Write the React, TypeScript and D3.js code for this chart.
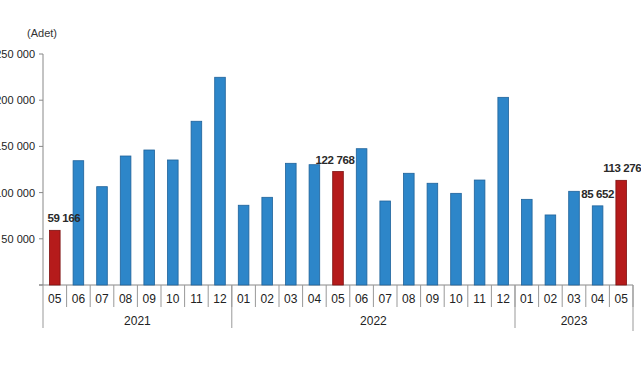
import React from "react";
import * as d3 from "d3";

const months = ["05","06","07","08","09","10","11","12","01","02","03","04","05","06","07","08","09","10","11","12","01","02","03","04","05"];
const years = ["2021","2021","2021","2021","2021","2021","2021","2021","2022","2022","2022","2022","2022","2022","2022","2022","2022","2022","2022","2022","2023","2023","2023","2023","2023"];
const values = [59166,134500,106400,139600,146100,135300,177200,224800,86300,94900,131700,130200,122768,147500,90900,120900,110100,99200,113600,203100,92700,75800,101400,85652,113276];
const highlighted = [0, 12, 24];
const labelled = [0, 12, 23, 24];
const yTicks = [0, 50000, 100000, 150000, 200000, 250000];
const yearNames = ["2021", "2022", "2023"];

const W = 641, H = 380;
const X0 = 43, X1 = 633, Y0 = 285, YTOP = 54;
const labelDx: Record<number, number> = { 0: 9, 12: -3, 23: 0, 24: 1 };

const fmt = (v: number) => d3.format(",")(v).replace(/,/g, " ");

export default function App() {
  const idx = months.map((_, i) => String(i));
  const x = d3.scaleBand<string>().domain(idx).range([X0, X1]).paddingInner(0.55).paddingOuter(0.275);
  const y = d3.scaleLinear().domain([0, 250000]).range([Y0, YTOP]);
  const step = x.step();
  const bw = x.bandwidth();
  const font = "'Liberation Sans', Arial, sans-serif";

  const yearGroups = yearNames.map((yr) => {
    const ids = years.map((v, i) => (v === yr ? i : -1)).filter((i) => i >= 0);
    const start = X0 + ids[0] * step;
    const end = X0 + (ids[ids.length - 1] + 1) * step;
    return { yr, start, end };
  });

  return (
    <svg width={W} height={H} style={{ position: "absolute", left: 0, top: 0, background: "#fff" }} fontFamily={font}>
      <text x={42} y={37} fontSize={11} textAnchor="middle" fill="#333">(Adet)</text>
      <line x1={X0} x2={X0} y1={YTOP} y2={Y0} stroke="#888" />
      {yTicks.map((t) => (
        <g key={t}>
          <line x1={X0 - 4} x2={X0} y1={y(t)} y2={y(t)} stroke="#888" />
          {t > 0 && (
            <text x={35} y={y(t) + 4} fontSize={11} textAnchor="end" fill="#222">{fmt(t)}</text>
          )}
        </g>
      ))}
      <line x1={X0 - 4} x2={X1} y1={Y0} y2={Y0} stroke="#888" />
      {values.map((v, i) => {
        const red = highlighted.includes(i);
        return (
          <rect key={i} x={x(String(i))!} y={y(v)} width={bw} height={Y0 - y(v)}
            fill={red ? "#b51b1b" : "#2d86c9"} stroke={red ? "#7d1010" : "#1f629a"} strokeWidth={0.8} />
        );
      })}
      {labelled.map((i) => (
        <text key={i} x={x(String(i))! + bw / 2 + labelDx[i]} y={y(values[i]) - 8} fontSize={11.5}
          textAnchor="middle" fill="#2a2a2a" fontWeight={600} letterSpacing={-0.4}>{fmt(values[i])}</text>
      ))}
      {months.map((m, i) => (
        <g key={i}>
          <line x1={X0 + (i + 1) * step} x2={X0 + (i + 1) * step} y1={Y0} y2={307} stroke="#999" />
          <text x={x(String(i))! + bw / 2} y={303} fontSize={12} textAnchor="middle" fill="#222">{m}</text>
        </g>
      ))}
      {yearGroups.map((g, k) => (
        <g key={g.yr}>
          {k === 0 && <line x1={g.start} x2={g.start} y1={Y0} y2={328} stroke="#999" />}
          <line x1={g.end} x2={g.end} y1={Y0} y2={k === 2 ? 331 : 328} stroke="#999" />
          <text x={(g.start + g.end) / 2} y={325} fontSize={12} textAnchor="middle" fill="#222">{g.yr}</text>
        </g>
      ))}
    </svg>
  );
}
